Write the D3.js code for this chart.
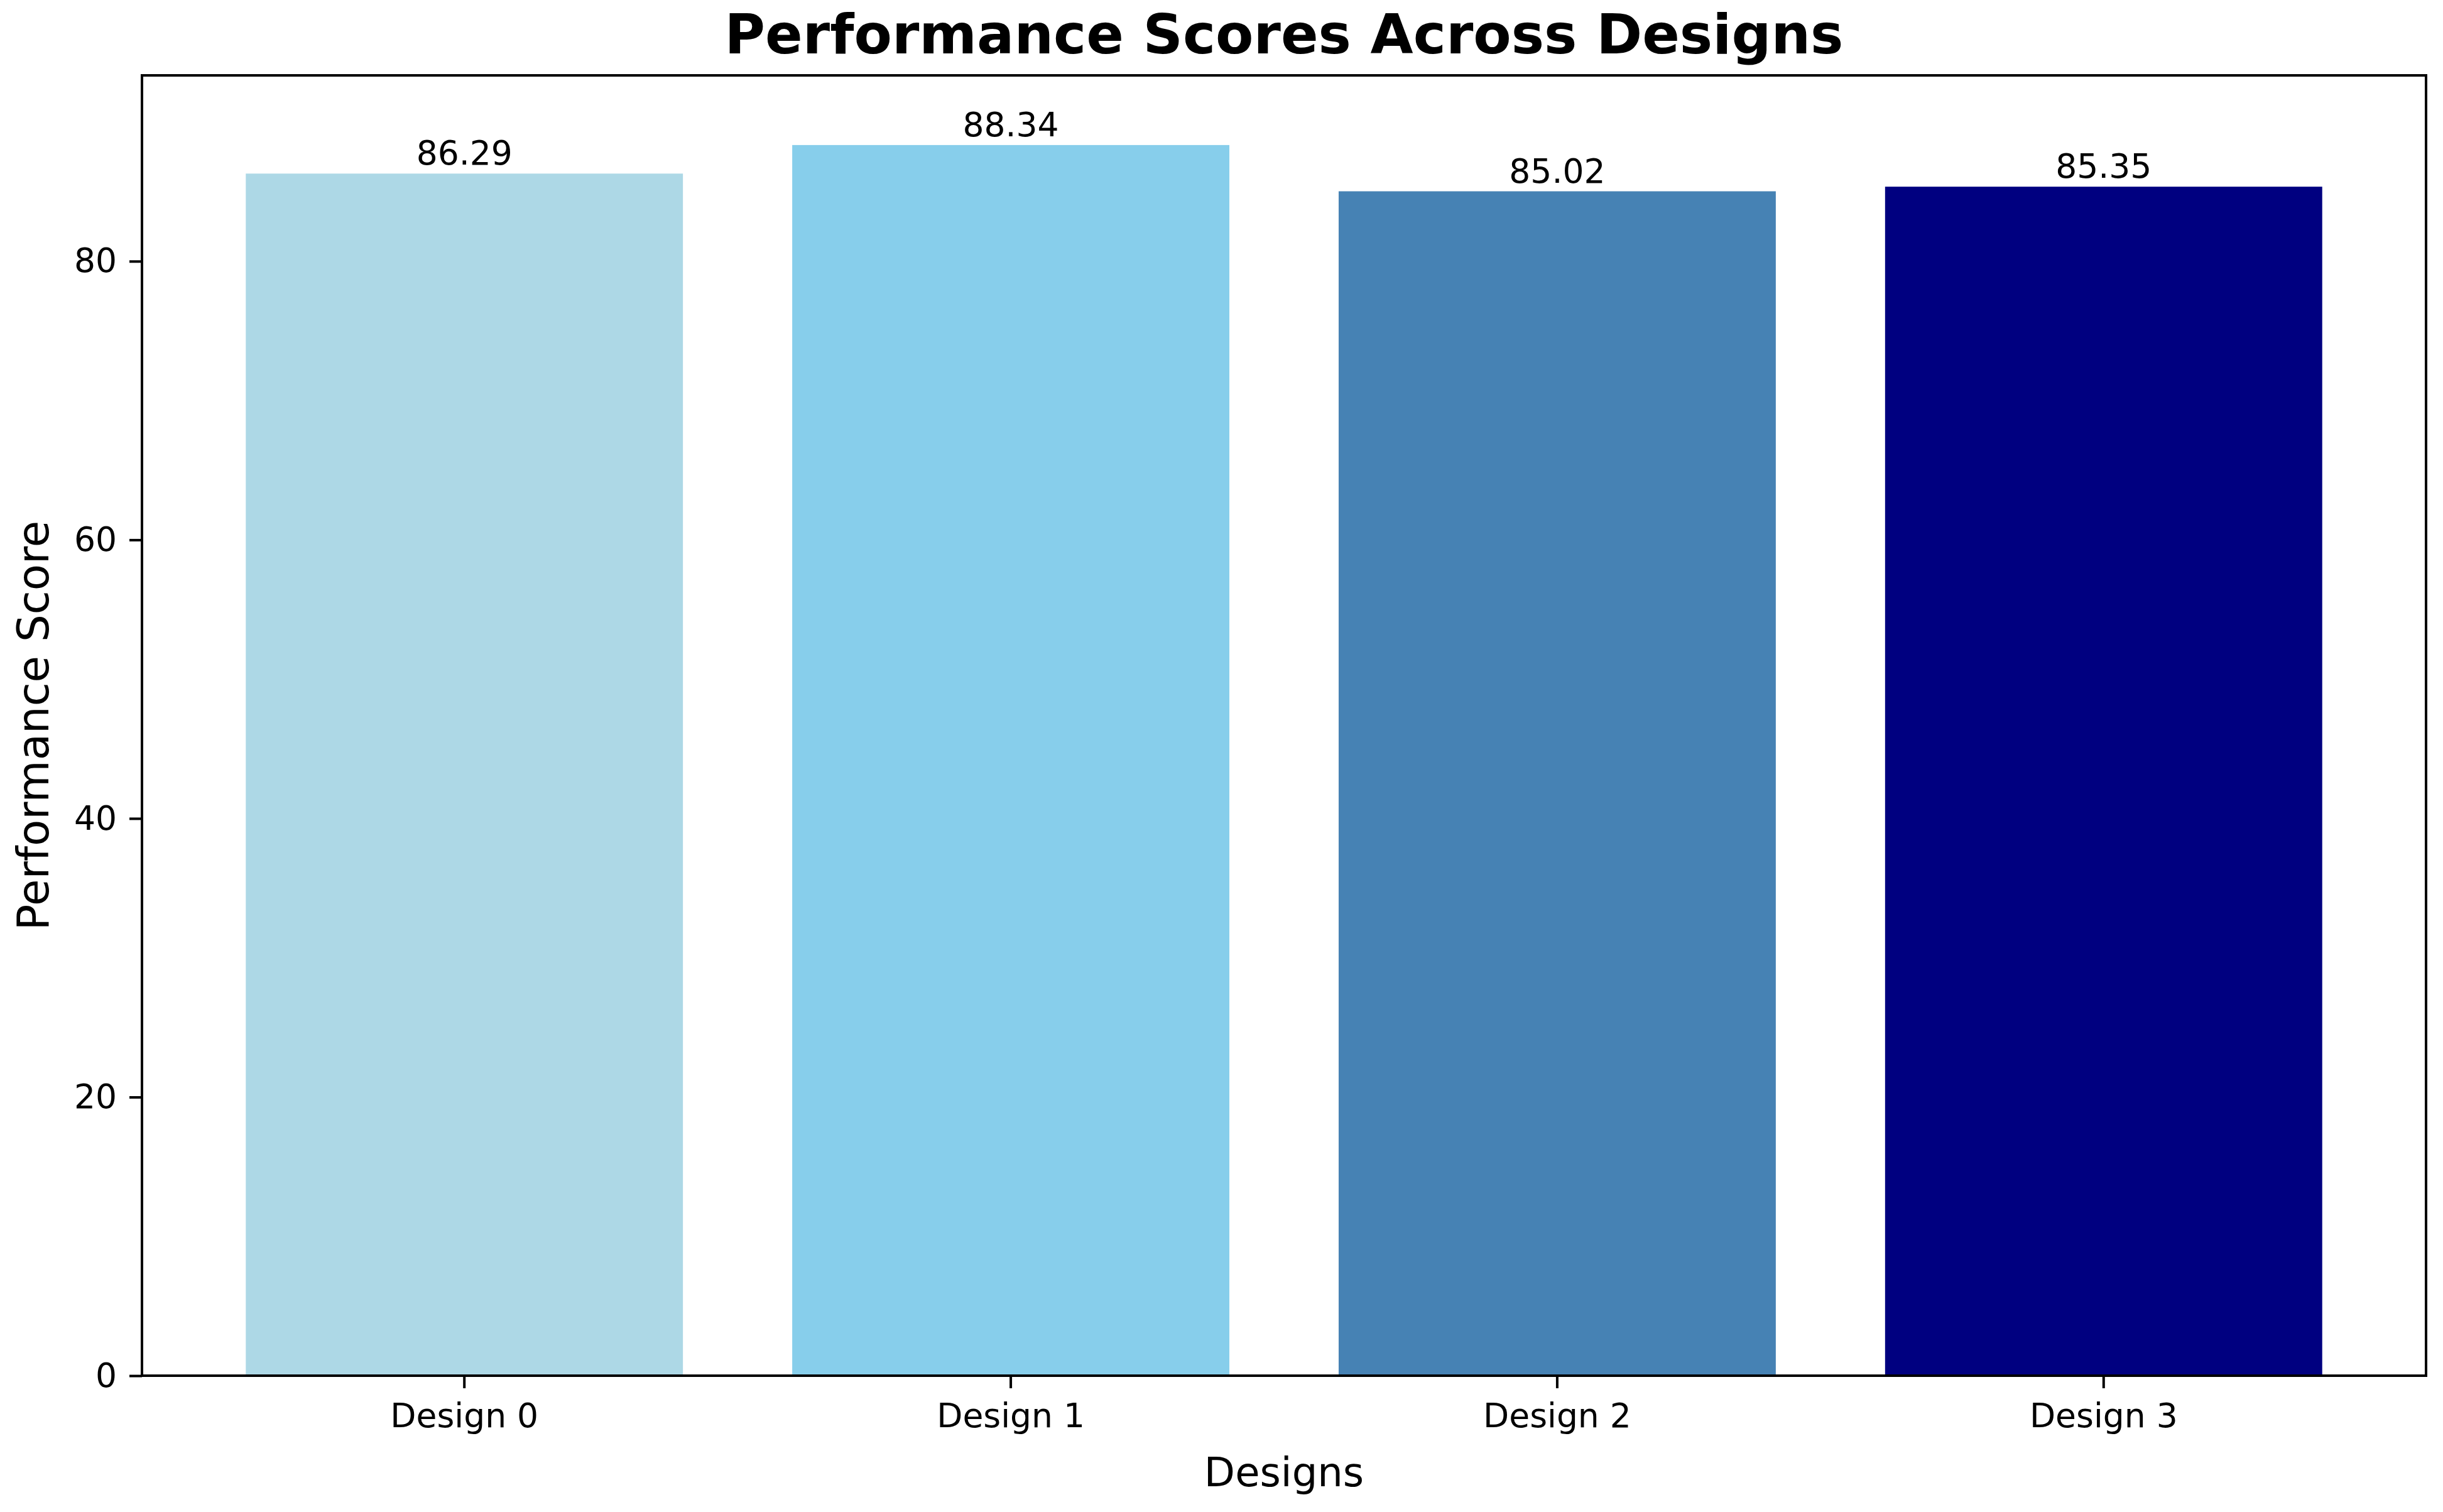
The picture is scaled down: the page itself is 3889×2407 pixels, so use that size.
<!DOCTYPE html>
<html>
<head>
<meta charset="utf-8">
<script src="https://cdn.jsdelivr.net/npm/d3@7"></script>
<style>
  body { margin: 0; background: #fff; }
  svg { display: block; font-family: "DejaVu Sans", sans-serif; }
</style>
</head>
<body>
<svg id="chart"></svg>
<script>
// chart data
const designs = ["Design 0", "Design 1", "Design 2", "Design 3"];
const scores = [86.29, 88.34, 85.02, 85.35];
const barColors = ["#ADD8E6", "#87CEEB", "#4682B4", "#000080"];
const yTicks = [0, 20, 40, 60, 80];
const yMax = 93.34;

const width = 3889, height = 2407;
const margin = {top: 120, right: 27, bottom: 217, left: 226};
const inner_width = width - margin.left - margin.right;
const inner_height = height - margin.top - margin.bottom;

const svg = d3.select("#chart")
    .attr("width", width)
    .attr("height", height);

const chart = svg.append("g")
    .attr("transform", `translate(${margin.left},${margin.top})`);

const xscale = d3.scaleBand()
    .domain(designs)
    .range([0, inner_width])
    .paddingInner(0.2)
    .paddingOuter(0.19);

const yscale = d3.scaleLinear()
    .domain([0, yMax])
    .range([inner_height, 0]);

// bars
chart.selectAll("rect.bar")
    .data(designs)
    .enter()
    .append("rect")
    .attr("class", "bar")
    .attr("x", d => xscale(d))
    .attr("y", (d, i) => yscale(scores[i]))
    .attr("width", xscale.bandwidth())
    .attr("height", (d, i) => yscale(0) - yscale(scores[i]))
    .attr("fill", (d, i) => barColors[i]);

// value labels
chart.selectAll("text.value")
    .data(designs)
    .enter()
    .append("text")
    .attr("class", "value")
    .attr("x", d => xscale(d) + xscale.bandwidth() / 2)
    .attr("y", (d, i) => yscale(scores[i]) - 14)
    .attr("text-anchor", "middle")
    .attr("font-size", 53.5)
    .attr("fill", "#000")
    .text((d, i) => scores[i].toFixed(2));

// axes
const xaxis = d3.axisBottom(xscale)
    .tickSize(20)
    .tickSizeOuter(0)
    .tickPadding(24);
const xaxis_group = chart.append("g")
    .attr("transform", `translate(0,${inner_height})`)
    .call(xaxis);

const yaxis = d3.axisLeft(yscale)
    .tickValues(yTicks)
    .tickSize(20)
    .tickSizeOuter(0)
    .tickPadding(20);
const yaxis_group = chart.append("g")
    .call(yaxis);

[xaxis_group, yaxis_group].forEach(g => {
    g.selectAll("text")
        .attr("font-size", 53.5)
        .attr("font-family", "DejaVu Sans")
        .attr("fill", "#000");
    g.selectAll("line").attr("stroke", "#000").attr("stroke-width", 4);
    g.select(".domain").remove();
});

// frame
chart.append("rect")
    .attr("x", 0)
    .attr("y", 0)
    .attr("width", inner_width)
    .attr("height", inner_height)
    .attr("fill", "none")
    .attr("stroke", "#000")
    .attr("stroke-width", 4);

// title and axis labels
svg.append("text")
    .attr("x", margin.left + inner_width / 2)
    .attr("y", 85)
    .attr("text-anchor", "middle")
    .attr("font-size", 88)
    .attr("font-weight", "bold")
    .text("Performance Scores Across Designs");

svg.append("text")
    .attr("x", margin.left + inner_width / 2)
    .attr("y", 2366)
    .attr("text-anchor", "middle")
    .attr("font-size", 64)
    .text("Designs");

svg.append("text")
    .attr("transform", `translate(77,${margin.top + inner_height / 2}) rotate(-90)`)
    .attr("text-anchor", "middle")
    .attr("font-size", 69)
    .text("Performance Score");
</script>
</body>
</html>
